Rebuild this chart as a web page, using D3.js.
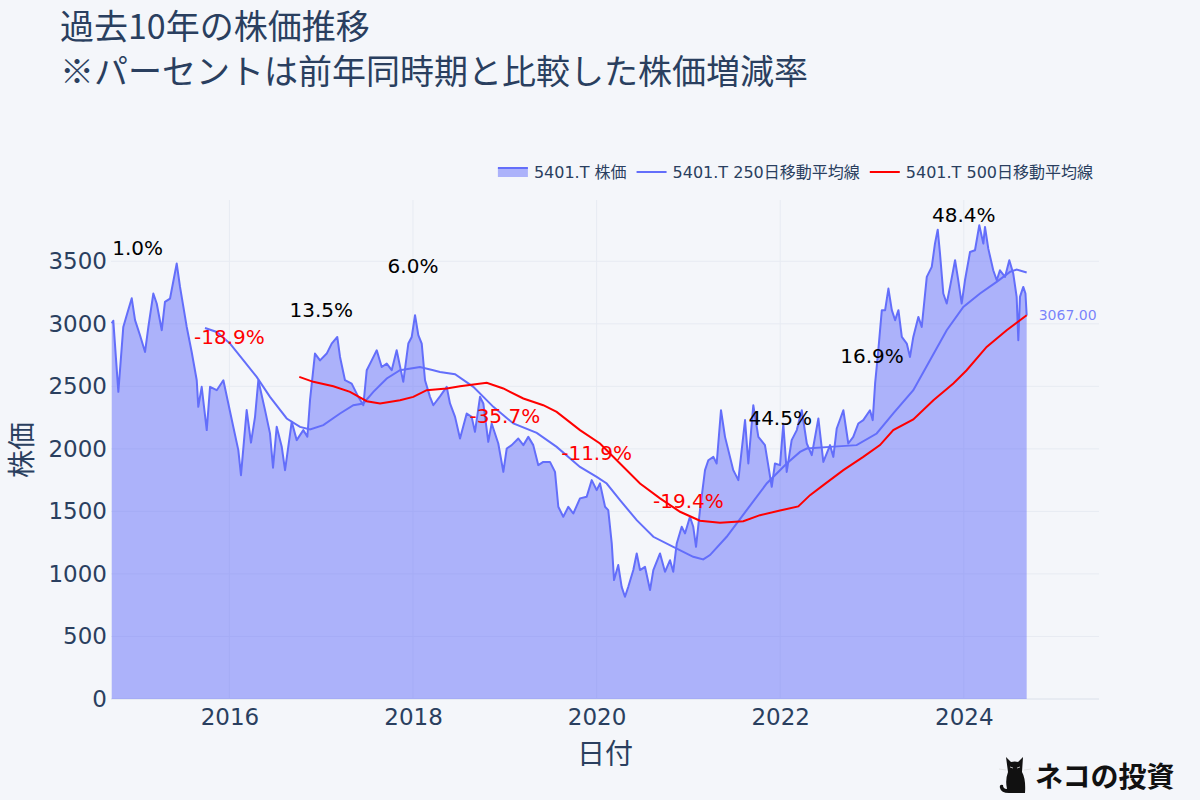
<!DOCTYPE html>
<meta charset="UTF-8">
<style>
body { margin: 0; background: #f4f6fa; }
text { font-family: "DejaVu Sans", "Noto Sans CJK JP", sans-serif; }
.jp { font-family: "Noto Sans CJK JP", sans-serif; }
</style>
<body>
<script src="https://cdn.jsdelivr.net/npm/d3@7"></script>
<script>

// 株価 (decimal year, price)
var priceT = [2014.718,2014.735,2014.790,2014.844,2014.881,2014.936,2014.972,2015.026,2015.081,2015.117,
  2015.171,2015.208,2015.263,2015.298,2015.353,2015.426,2015.462,2015.535,2015.589,2015.644,
  2015.661,2015.698,2015.753,2015.789,2015.862,2015.934,2015.988,2016.042,2016.097,2016.126,
  2016.188,2016.235,2016.279,2016.315,2016.388,2016.442,2016.475,2016.515,2016.570,2016.606,
  2016.679,2016.733,2016.805,2016.849,2016.878,2016.932,2016.987,2017.060,2017.114,2017.175,
  2017.205,2017.259,2017.332,2017.404,2017.459,2017.496,2017.550,2017.605,2017.659,2017.714,
  2017.768,2017.822,2017.894,2017.949,2017.986,2018.022,2018.058,2018.095,2018.131,2018.185,
  2018.221,2018.294,2018.367,2018.403,2018.458,2018.512,2018.585,2018.639,2018.675,2018.730,
  2018.766,2018.820,2018.857,2018.929,2018.984,2019.021,2019.075,2019.147,2019.202,2019.256,
  2019.310,2019.365,2019.419,2019.492,2019.547,2019.583,2019.637,2019.692,2019.746,2019.819,
  2019.892,2019.947,2020.001,2020.037,2020.092,2020.127,2020.165,2020.190,2020.236,2020.273,
  2020.309,2020.345,2020.400,2020.437,2020.473,2020.527,2020.582,2020.618,2020.691,2020.745,
  2020.800,2020.835,2020.873,2020.927,2020.963,2021.017,2021.053,2021.083,2021.126,2021.181,
  2021.217,2021.272,2021.308,2021.355,2021.399,2021.453,2021.489,2021.544,2021.617,2021.653,
  2021.707,2021.762,2021.834,2021.908,2021.943,2021.998,2022.034,2022.071,2022.125,2022.181,
  2022.235,2022.290,2022.344,2022.416,2022.470,2022.543,2022.579,2022.616,2022.688,2022.742,
  2022.796,2022.851,2022.905,2022.978,2023.008,2023.034,2023.069,2023.107,2023.143,2023.179,
  2023.216,2023.252,2023.288,2023.325,2023.379,2023.414,2023.450,2023.505,2023.542,2023.597,
  2023.651,2023.686,2023.716,2023.741,2023.777,2023.814,2023.850,2023.905,2023.940,2023.977,
  2024.013,2024.068,2024.122,2024.169,2024.213,2024.231,2024.267,2024.321,2024.359,2024.394,
  2024.449,2024.496,2024.539,2024.576,2024.594,2024.612,2024.648,2024.672,2024.685];
var priceV = [3005,3025,2456,2975,3069,3204,3029,2909,2775,2975,
  3242,3162,2949,3175,3202,3482,3295,2975,2775,2549,
  2336,2496,2150,2496,2469,2549,2363,2177,1990,1790,
  2310,2050,2256,2549,2310,2124,1850,2177,2017,1830,
  2217,2070,2150,2097,2389,2762,2708,2762,2842,2895,
  2735,2549,2522,2416,2349,2629,2708,2788,2655,2682,
  2629,2788,2536,2842,2895,3069,2909,2842,2549,2416,
  2349,2420,2496,2363,2256,2083,2283,2256,2136,2416,
  2363,2056,2203,2043,1816,2003,2030,2083,2030,2096,
  2030,1870,1896,1896,1816,1537,1457,1537,1483,1604,
  1617,1750,1670,1724,1537,1510,1244,951,1071,897,
  818,897,1031,1164,1031,1057,871,1031,1164,1017,
  1110,1017,1244,1377,1324,1457,1377,1217,1510,1830,
  1909,1936,1883,2309,2096,1936,1830,1750,2230,1883,
  2349,2096,2030,1697,1883,1870,2200,1816,2070,2150,
  2309,2043,1950,2243,1896,2030,1936,2163,2309,2043,
  2096,2203,2230,2309,2230,2523,2789,3109,3109,3282,
  3109,3029,3109,2895,2842,2735,2895,3055,2975,3375,
  3455,3641,3753,3561,3242,3162,3295,3508,3348,3162,
  3348,3574,3588,3788,3641,3775,3601,3428,3348,3428,
  3375,3508,3402,3215,2869,3215,3295,3242,3067];

// 250日移動平均線
var ma250T = [2015.734,2015.862,2016.007,2016.151,2016.297,2016.442,2016.624,2016.769,2016.878,2017.023,
  2017.205,2017.350,2017.459,2017.568,2017.714,2017.858,2018.076,2018.221,2018.294,2018.458,
  2018.657,2018.875,2019.093,2019.348,2019.565,2019.819,2020.001,2020.110,2020.255,2020.437,
  2020.618,2020.835,2021.053,2021.162,2021.235,2021.417,2021.635,2021.853,2022.071,2022.216,
  2022.289,2022.543,2022.833,2023.051,2023.232,2023.450,2023.632,2023.814,2023.995,2024.177,
  2024.358,2024.503,2024.576,2024.685];
var ma250V = [2967,2935,2842,2709,2576,2416,2243,2176,2155,2190,
  2283,2349,2363,2456,2563,2629,2655,2629,2615,2597,
  2496,2336,2203,2128,2016,1856,1776,1723,1590,1430,
  1297,1217,1137,1116,1151,1297,1510,1723,1883,1976,
  2003,2016,2030,2123,2283,2469,2709,2949,3135,3242,
  3335,3415,3434,3410];

// 500日移動平均線
var ma500T = [2016.761,2016.914,2017.132,2017.314,2017.496,2017.641,2017.858,2018.003,2018.149,2018.367,
  2018.512,2018.803,2018.984,2019.202,2019.419,2019.565,2019.819,2020.037,2020.255,2020.473,
  2020.691,2020.909,2021.126,2021.344,2021.598,2021.780,2021.998,2022.197,2022.325,2022.470,
  2022.688,2022.905,2023.087,2023.232,2023.450,2023.669,2023.886,2024.031,2024.249,2024.467,
  2024.685];
var ma500V = [2576,2536,2501,2456,2381,2363,2389,2416,2469,2483,
  2501,2528,2483,2403,2349,2296,2150,2043,1883,1723,
  1604,1497,1425,1409,1422,1470,1507,1540,1630,1710,
  1830,1936,2030,2150,2235,2389,2523,2629,2815,2949,
  3069];

// 前年同時期比 (annotation at Jan 1 of each year)
var annYear = [2015,2016,2017,2018,2019,2020,2021,2022,2023,2024];
var annPct  = [1.0,-18.9,13.5,6.0,-35.7,-11.9,-19.4,44.5,16.9,48.4];
var annY    = [3608,2897,3112,3460,2265,1970,1586,2249,2745,3872];

var xTicks = [2016,2018,2020,2022,2024];
var yTicks = [0,500,1000,1500,2000,2500,3000,3500];

var legendNames = ["5401.T 株価","5401.T 250日移動平均線","5401.T 500日移動平均線"];

var W = 1200, H = 800;
var blue = "#636efa", ink = "#2a3f5f", bg = "#f4f6fa", gridCol = "#e7ebf2";

var svg = d3.select("body").append("svg")
    .attr("width", W).attr("height", H);

svg.append("rect").attr("width", W).attr("height", H).attr("fill", bg);

var x = d3.scaleLinear().domain([2014.710, 2025.473]).range([111, 1099]);
var y = d3.scaleLinear().domain([0, 3990]).range([699, 200]);

// grid
svg.append("g").selectAll("line").data(yTicks).join("line")
    .attr("x1", x.range()[0]).attr("x2", x.range()[1])
    .attr("y1", d => y(d)).attr("y2", d => y(d))
    .attr("stroke", gridCol).attr("stroke-width", d => d === 0 ? 2 : 1);
svg.append("g").selectAll("line").data(xTicks).join("line")
    .attr("x1", d => x(d)).attr("x2", d => x(d))
    .attr("y1", y.range()[0]).attr("y2", y.range()[1])
    .attr("stroke", gridCol);

var price = priceT.map((t, i) => ({t: t, v: priceV[i]}));
var ma250 = ma250T.map((t, i) => ({t: t, v: ma250V[i]}));
var ma500 = ma500T.map((t, i) => ({t: t, v: ma500V[i]}));

var area = d3.area().x(d => x(d.t)).y0(y(0)).y1(d => y(d.v));
var line = d3.line().x(d => x(d.t)).y(d => y(d.v));

svg.append("path").datum(price).attr("d", area)
    .attr("fill", blue).attr("fill-opacity", 0.5);
svg.append("path").datum(price).attr("d", line)
    .attr("fill", "none").attr("stroke", blue).attr("stroke-width", 2)
    .attr("stroke-linejoin", "round");
svg.append("path").datum(ma250).attr("d", line)
    .attr("fill", "none").attr("stroke", blue).attr("stroke-width", 2);
svg.append("path").datum(ma500).attr("d", line)
    .attr("fill", "none").attr("stroke", "red").attr("stroke-width", 2);

// axes
var xAxis = svg.append("g").attr("transform", "translate(0," + y(0) + ")")
    .call(d3.axisBottom(x).tickValues(xTicks).tickFormat(d3.format("d")).tickSize(0).tickPadding(10));
var yAxis = svg.append("g").attr("transform", "translate(" + x.range()[0] + ",0)")
    .call(d3.axisLeft(y).tickValues(yTicks).tickFormat(d3.format("d")).tickSize(0).tickPadding(4));
[xAxis, yAxis].forEach(function(g) {
  g.select(".domain").remove();
  g.selectAll("text").attr("fill", ink).style("font-size", "23px")
    .style("font-family", "'DejaVu Sans', sans-serif");
});

// annotations
svg.append("g").selectAll("text").data(annYear).join("text")
    .attr("x", d => x(d))
    .attr("y", (d, i) => y(annY[i]))
    .attr("text-anchor", "middle")
    .attr("dominant-baseline", "central")
    .attr("fill", (d, i) => annPct[i] < 0 ? "red" : "black")
    .style("font-size", "20px")
    .text((d, i) => annPct[i].toFixed(1) + "%");

// last value label
var last = price[price.length - 1];
svg.append("text")
    .attr("x", x(last.t) + 12).attr("y", y(last.v))
    .attr("dominant-baseline", "central")
    .attr("fill", blue).attr("fill-opacity", 0.85)
    .style("font-size", "14px")
    .text(last.v.toFixed(2));

// axis titles
svg.append("text").attr("class", "jp")
    .attr("x", 605).attr("y", 752)
    .attr("text-anchor", "middle").attr("dominant-baseline", "central")
    .attr("fill", ink).style("font-size", "28px").text("日付");
svg.append("text").attr("class", "jp")
    .attr("transform", "translate(20,450) rotate(-90)")
    .attr("text-anchor", "middle").attr("dominant-baseline", "central")
    .attr("fill", ink).style("font-size", "28px").text("株価");

// title
var title = svg.append("text").attr("class", "jp")
    .attr("fill", ink).style("font-size", "34px");
title.append("tspan").attr("x", 60).attr("y", 39).text("過去10年の株価推移");
title.append("tspan").attr("x", 60).attr("y", 84).text("※パーセントは前年同時期と比較した株価増減率");

// legend (right aligned)
var leg = svg.append("g");
var items = leg.selectAll("g").data(legendNames).join("g");
items.append("text").attr("x", 36).attr("y", 0)
    .attr("dominant-baseline", "central")
    .attr("fill", ink).style("font-size", "16px")
    .text(d => d);
var offs = 0;
items.each(function(d, i) {
  var w = this.querySelector("text").getComputedTextLength();
  d3.select(this).attr("transform", "translate(" + offs + ",0)");
  offs += 36 + w + 10;
});
offs -= 10;
leg.attr("transform", "translate(" + (1093 - offs) + ",172)");
items.filter((d, i) => i === 0).append("rect")
    .attr("x", 0).attr("y", -4).attr("width", 30).attr("height", 9)
    .attr("fill", blue).attr("fill-opacity", 0.5);
items.filter((d, i) => i === 0).append("line")
    .attr("x1", 0).attr("x2", 30).attr("y1", -4).attr("y2", -4)
    .attr("stroke", blue).attr("stroke-width", 2);
items.filter((d, i) => i > 0).append("line")
    .attr("x1", 0).attr("x2", 30).attr("y1", 0).attr("y2", 0)
    .attr("stroke", (d, i) => i === 0 ? blue : "red").attr("stroke-width", 2);

// logo
var logo = svg.append("g").attr("transform", "translate(997,753)");
logo.append("path")
    .attr("d", "M11,19 L9,4 L14,9 Q18,8 21,9 L26,4 L25,19 Q29,26 28,40 L12,40 Q4,40 3,35 Q2,31 6,32 Q6,36 10,36 Q8,27 11,19 Z")
    .attr("fill", "#111");
logo.append("path").attr("d", "M13,14 l3,1 M20,15 l3,-1 M9,17 l-7,-1 M27,17 l7,-1")
    .attr("stroke", "#ddd").attr("stroke-width", 0.8);
svg.append("text").attr("class", "jp")
    .attr("x", 1035).attr("y", 787)
    .attr("fill", "#111").style("font-size", "28px").style("font-weight", 700)
    .text("ネコの投資");

</script>
</body>
